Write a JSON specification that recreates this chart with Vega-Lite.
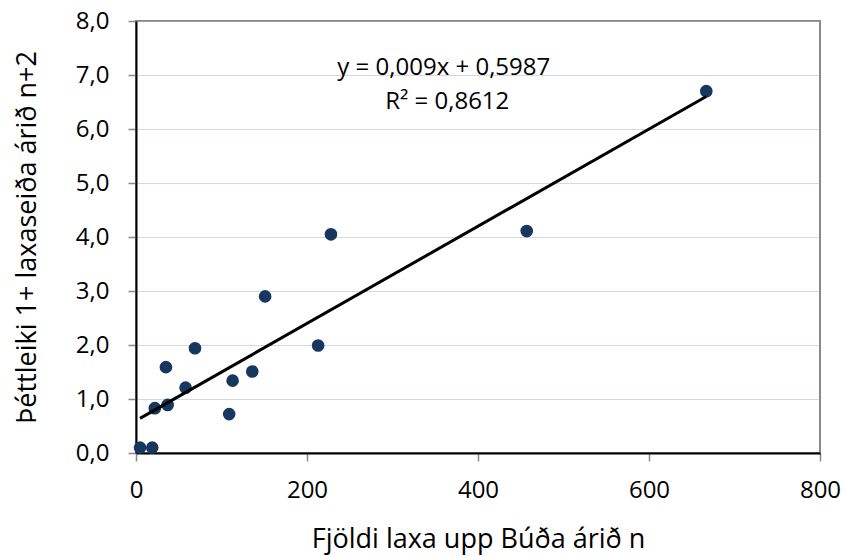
{
  "$schema": "https://vega.github.io/schema/vega-lite/v6.json",
  "width": 684,
  "height": 432,
  "autosize": {"type": "none"},
  "padding": {"left": 136, "top": 21, "right": 26, "bottom": 103},
  "background": "white",
  "config": {
    "font": "Open Sans",
    "view": {"stroke": "#888888", "strokeWidth": 2},
    "axis": {
      "labelFont": "Open Sans",
      "titleFont": "Open Sans",
      "labelFontSize": 24,
      "titleFontSize": 27,
      "labelColor": "#000000",
      "titleColor": "#000000",
      "titleFontWeight": "normal",
      "domainColor": "#000000",
      "domainWidth": 2,
      "tickColor": "#888888",
      "tickWidth": 1.5,
      "tickSize": 8,
      "labelFlush": false,
      "gridColor": "#9fb3d6",
      "gridDash": [1, 1],
      "gridWidth": 1
    }
  },
  "datasets": {
    "pts": [
      {"n": 4.7, "d": 0.1},
      {"n": 19, "d": 0.1},
      {"n": 22, "d": 0.83},
      {"n": 37, "d": 0.89},
      {"n": 35, "d": 1.59},
      {"n": 58, "d": 1.21},
      {"n": 69, "d": 1.94},
      {"n": 109, "d": 0.72},
      {"n": 113, "d": 1.34},
      {"n": 136, "d": 1.51},
      {"n": 151, "d": 2.9},
      {"n": 213, "d": 1.99},
      {"n": 228, "d": 4.05},
      {"n": 457, "d": 4.11},
      {"n": 667, "d": 6.7}
    ],
    "trend": [
      {"n": 4.7, "d": 0.641},
      {"n": 667, "d": 6.602}
    ],
    "labels": [
      {"n": 360, "d": 7.13, "t": "y = 0,009x + 0,5987"},
      {"n": 364, "d": 6.5, "t": "R² = 0,8612"}
    ]
  },
  "layer": [
    {
      "data": {"name": "pts"},
      "mark": {"type": "point", "filled": true, "opacity": 1, "size": 160, "color": "#17375e"},
      "encoding": {
        "x": {
          "field": "n", "type": "quantitative",
          "scale": {"domain": [0, 800], "nice": false},
          "axis": {"values": [0, 200, 400, 600, 800], "grid": false, "title": "Fjöldi laxa upp Búða árið n", "titlePadding": 24, "labelPadding": 17, "format": "d"}
        },
        "y": {
          "field": "d", "type": "quantitative",
          "scale": {"domain": [0, 8], "nice": false},
          "axis": {"values": [0, 1, 2, 3, 4, 5, 6, 7, 8], "grid": true, "title": "Þéttleiki 1+ laxaseiða  árið n+2", "titlePadding": 34, "labelPadding": 19,
            "labelExpr": "replace(format(datum.value, '.1f'), '.', ',')"}
        }
      }
    },
    {
      "data": {"name": "trend"},
      "mark": {"type": "line", "color": "#000000", "strokeWidth": 3},
      "encoding": {
        "x": {"field": "n", "type": "quantitative"},
        "y": {"field": "d", "type": "quantitative"}
      }
    },
    {
      "data": {"name": "labels"},
      "mark": {"type": "text", "fontSize": 24, "font": "Open Sans", "color": "#000000", "align": "center", "baseline": "middle"},
      "encoding": {
        "x": {"field": "n", "type": "quantitative"},
        "y": {"field": "d", "type": "quantitative"},
        "text": {"field": "t"}
      }
    }
  ]
}
